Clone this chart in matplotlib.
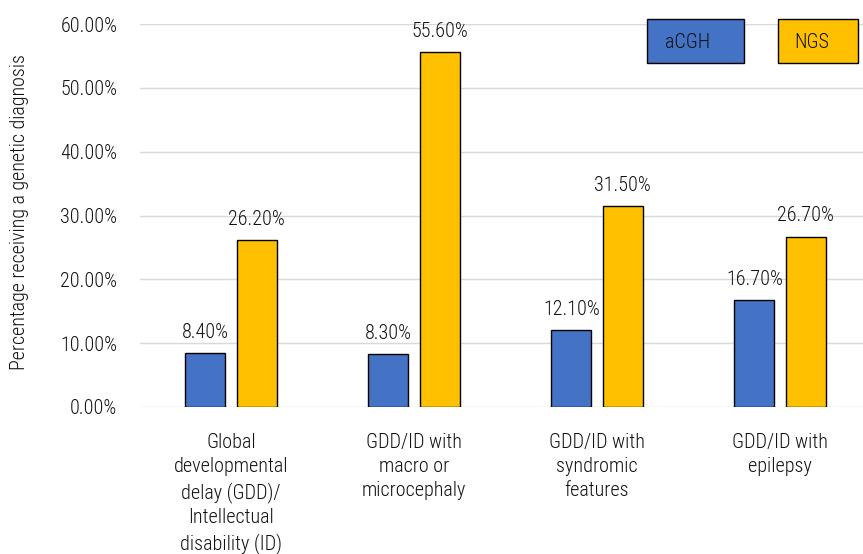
import matplotlib
matplotlib.use('Agg')
import numpy as np
import matplotlib.pyplot as plt
from matplotlib.patches import Rectangle

plt.rcParams['font.family'] = ['Roboto Condensed', 'DejaVu Sans']
plt.rcParams['font.stretch'] = 'condensed'
plt.rcParams['font.weight'] = 'light'
plt.rcParams['font.size'] = 14.5
plt.rcParams['text.color'] = '#111111'

categories = ['Global\ndevelopmental\ndelay (GDD)/\nIntellectual\ndisability (ID)',
              'GDD/ID with\nmacro or\nmicrocephaly',
              'GDD/ID with\nsyndromic\nfeatures',
              'GDD/ID with\nepilepsy']
acgh = [8.4, 8.3, 12.1, 16.7]
ngs = [26.2, 55.6, 31.5, 26.7]
series_names = ['aCGH', 'NGS']
yticks = [0, 10, 20, 30, 40, 50, 60]

blue = '#4472C4'
gold = '#FFC000'

fig = plt.figure(figsize=(8.63, 5.54), dpi=100)
ax = fig.add_axes([139.5 / 863, 147 / 554, 732 / 863, 383 / 554])

x = np.arange(len(categories))
w = 0.218
off = 0.14
b1 = ax.bar(x - off, acgh, w, color=blue, edgecolor='black', linewidth=1.0, zorder=3)
b2 = ax.bar(x + off, ngs, w, color=gold, edgecolor='black', linewidth=1.0, zorder=3)

for bars, vals in [(b1, acgh), (b2, ngs)]:
    for b, v in zip(bars, vals):
        ax.annotate(f'{v:.2f}%', (b.get_x() + b.get_width() / 2, v),
                    xytext=(0, 8), textcoords='offset points',
                    ha='center', va='bottom', fontsize=14.5)

ax.set_xlim(-0.5, 3.5)
ax.set_ylim(0, 60)
ax.set_yticks(yticks)
ax.set_yticklabels([f'{t:.2f}%' for t in yticks])
ax.set_xticks(x)
ax.set_xticklabels(categories, linespacing=1.36)
ax.tick_params(axis='both', length=0, labelcolor='#111111')
ax.tick_params(axis='y', pad=16)
ax.tick_params(axis='x', pad=18.5)
ax.grid(axis='y', color='#D9D9D9', linewidth=1.0, zorder=0)
for s in ax.spines.values():
    s.set_visible(False)

fig.text(20 / 863, 1 - 212 / 554, 'Percentage receiving a genetic diagnosis',
         rotation=90, ha='center', va='center', fontsize=14.4)

# legend boxes with the series name written inside
boxes = [(647, 97, 665), (778, 80, 794)]
for (x0, bw, tx), name, c in zip(boxes, series_names, [blue, gold]):
    fig.patches.append(Rectangle((x0 / 863, 1 - 63 / 554), bw / 863, 44 / 554,
                                 transform=fig.transFigure, facecolor=c,
                                 edgecolor='black', linewidth=1.0, zorder=5))
    fig.text(tx / 863, 1 - 42 / 554, name, ha='left', va='center',
             fontsize=14.5, zorder=6)

fig.savefig('out.png', dpi=100)
